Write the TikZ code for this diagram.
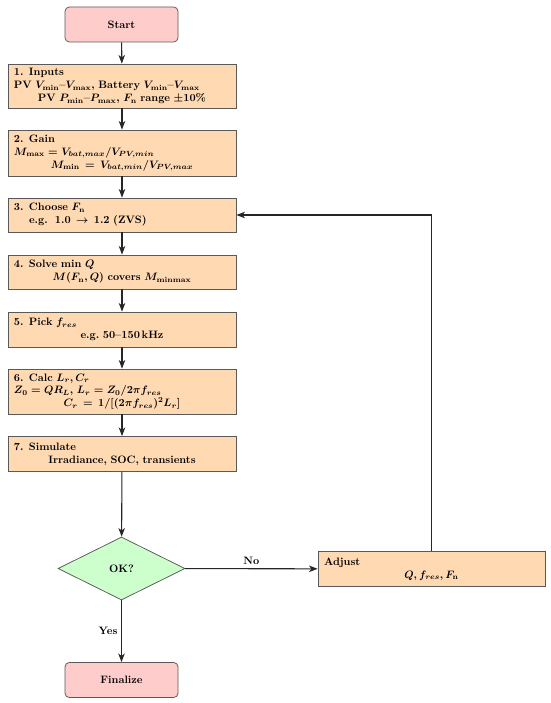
\documentclass[tikz,border=0pt]{standalone}
\usetikzlibrary{shapes.geometric,arrows.meta}
\newdimen\pxu \pxu=0.93pt
\newcommand{\cl}[1]{\hbox to\hsize{\hfil#1\hfil}}
\begin{document}
\begin{tikzpicture}[x=0.93pt,y=-0.93pt,
  every node/.style={font=\bfseries\boldmath},
  term/.style={draw=black!65, line width=0.7pt, fill=red!20, rounded corners=4pt,
    minimum width=113\pxu, minimum height=35\pxu, inner sep=0pt},
  stepbox/.style={draw=black!65, line width=0.7pt, fill=orange!30, text width=216\pxu,
    inner xsep=6\pxu, inner ysep=0pt, align=left},
  decision/.style={diamond, draw=black!65, line width=0.7pt, fill=green!20, aspect=2,
    inner sep=0pt, minimum width=127\pxu, minimum height=63\pxu},
  arr/.style={-{Stealth[length=8pt,width=6pt,inset=2.2pt]}, line width=1pt, draw=black!85},
  lbl/.style={font=\bfseries}
]
\useasboundingbox (0,0) rectangle (550,703);

\node[term] (start) at (121.5,24.5) {Start};

\node[stepbox, minimum height=44\pxu] (b1) at (122,86) {%
\textbf{1. Inputs}\\
PV $V_{\min}$--$V_{\max}$, Battery $V_{\min}$--$V_{\max}$\\
\cl{PV $P_{\min}$--$P_{\max}$, $F_{\mathrm{n}}$ range $\pm10\%$}};

\node[stepbox, minimum height=46\pxu] (b2) at (122,153) {%
\textbf{2. Gain}\\
$M_{\max} = V_{bat,max}/V_{PV,min}$\\
\cl{$M_{\min}$\enspace$=$\enspace$V_{bat,min}/V_{PV,max}$}};

\node[stepbox, minimum height=34\pxu] (b3) at (122,215) {%
\textbf{3. Choose $F_{\mathrm{n}}$}\\
\hspace*{14pt}e.g.\ \ $1.0$\enspace$\rightarrow$\enspace$1.2$ (ZVS)};

\node[stepbox, minimum height=34\pxu] (b4) at (122,272) {%
\textbf{4. Solve min $Q$}\\
\cl{$M(F_{\mathrm{n}},Q)$ covers $M_{\mathrm{minmax}}$}};

\node[stepbox, minimum height=35\pxu] (b5) at (122,329.5) {%
\textbf{5. Pick $f_{res}$}\\
\cl{e.g.\ 50--150\,kHz}};

\node[stepbox, minimum height=45\pxu] (b6) at (122,391.5) {%
\textbf{6. Calc $L_r, C_r$}\\
$Z_0 = QR_L$, $L_r = Z_0/2\pi f_{res}$\\
\cl{$C_r$\enspace$=$\enspace$1/[(2\pi f_{res})^2 L_r]$}};

\node[stepbox, minimum height=35\pxu] (b7) at (122,454) {%
\textbf{7. Simulate}\\
\cl{Irradiance, SOC, transients}};

\node[decision] (ok) at (121.5,568.5) {OK?};

\node[stepbox, minimum height=35\pxu, text width=215\pxu] (adj) at (431.5,569) {%
\textbf{Adjust}\\
\cl{$Q, f_{res}, F_{\mathrm{n}}$}};

\node[term] (fin) at (121.5,680) {Finalize};

\draw[arr] (start) -- (b1);
\draw[arr] (b1) -- (b2);
\draw[arr] (b2) -- (b3);
\draw[arr] (b3) -- (b4);
\draw[arr] (b4) -- (b5);
\draw[arr] (b5) -- (b6);
\draw[arr] (b6) -- (b7);
\draw[arr] (b7) -- (ok);
\draw[arr] (ok) -- node[lbl, above] {No} (adj);
\draw[arr] (ok) -- node[lbl, left] {Yes} (fin);
\draw[arr] (adj.north) |- (b3.east);
\end{tikzpicture}
\end{document}
